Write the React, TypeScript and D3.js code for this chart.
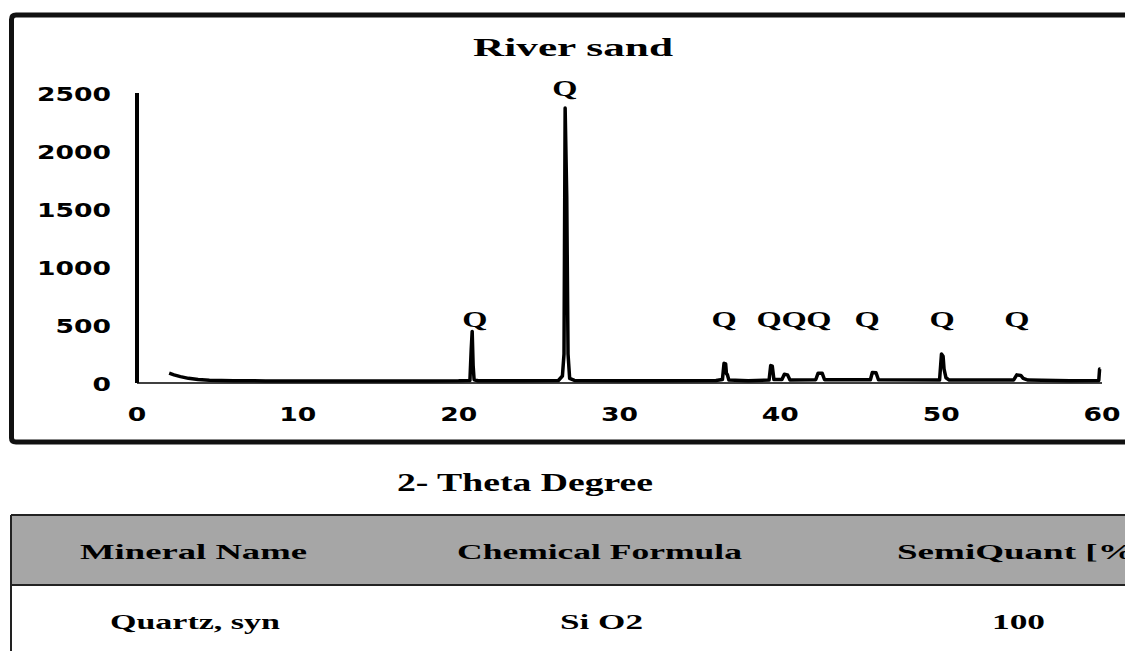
import React from "react";
import * as d3 from "d3";

const twoTheta = [
  2.0, 2.3, 2.7, 3.2, 3.8, 4.5, 6, 8, 10, 12, 14, 16, 18, 20, 20.6,
  20.7, 20.78, 20.84, 20.9, 20.96, 21.2, 24, 26.2, 26.45, 26.55, 26.62, 26.72, 26.8, 26.9, 27.2,
  30, 33, 36, 36.4, 36.5, 36.6, 36.65, 36.7, 36.8, 38, 39.3, 39.4, 39.5, 39.6,
  40.1, 40.25, 40.45, 40.6, 42.2, 42.35, 42.6, 42.75, 45.6, 45.72, 45.95, 46.1,
  49.9, 50.02, 50.12, 50.18, 50.3, 50.5, 54.5, 54.7, 54.95, 55.1, 55.4, 58, 59.8, 59.85, 59.9,
];
const intensity = [
  85, 70, 55, 40, 30, 24, 20, 18, 17, 18, 17, 18, 18, 19, 22,
  22, 290, 445, 150, 28, 20, 20, 22, 60, 250, 2370, 1600, 250, 40, 22,
  20, 20, 22, 30, 170, 165, 80, 75, 25, 20, 25, 150, 145, 30,
  30, 75, 70, 25, 28, 85, 85, 28, 28, 90, 88, 28,
  25, 250, 230, 120, 45, 25, 25, 70, 65, 40, 25, 20, 22, 120, 120,
];

const yTicks = [0, 500, 1000, 1500, 2000, 2500];
const xTicks = [0, 10, 20, 30, 40, 50, 60];

const peakLabelX = [21.0, 26.6, 36.5, 39.3, 40.85, 42.4, 45.4, 50.06, 54.7];
const peakLabelTop = [false, true, false, false, false, false, false, false, false];
const peakLabelText = "Q";

const title = "River sand";
const xTitle = "2- Theta Degree";
const tableHeader = ["Mineral Name", "Chemical Formula", "SemiQuant [%]"];
const tableRow = ["Quartz, syn", "Si O2", "100"];

const SERIF = "'Liberation Serif', 'Times New Roman', serif";
const SANS = "'DejaVu Sans', Verdana, sans-serif";

export default function App() {
  const x = d3.scaleLinear().domain([0, 60]).range([137, 1102]);
  const y = d3.scaleLinear().domain([0, 2500]).range([383, 93]);
  const pts: [number, number][] = twoTheta.map((t, i) => [t, intensity[i]]);
  const line = d3
    .line<[number, number]>()
    .x((d) => x(d[0]))
    .y((d) => y(d[1]));

  const sText = (
    key: string,
    tx: number,
    ty: number,
    s: string,
    size: number,
    family: string,
    sx: number,
    anchor: string
  ) => (
    <text
      key={key}
      transform={`translate(${tx},${ty}) scale(${sx},1)`}
      fontFamily={family}
      fontWeight="bold"
      fontSize={size}
      textAnchor={anchor}
      fill="#000"
    >
      {s}
    </text>
  );

  const headerX = [193, 600, 897];
  const rowX = [195, 601, 1018];

  return (
    <svg
      width={1125}
      height={651}
      style={{ position: "absolute", left: 0, top: 0, background: "#fff" }}
    >
      <rect x={0} y={0} width={1125} height={651} fill="#fff" />
      {/* outer chart frame */}
      <path
        d="M1140,15 L16,15 Q11.5,15 11.5,19.5 L11.5,438 Q11.5,442 16,442 L1140,442"
        fill="none"
        stroke="#111"
        strokeWidth={5}
      />
      {/* title */}
      <text
        x={473}
        y={56}
        fontFamily={SERIF}
        fontWeight="bold"
        fontSize={26}
        textLength={200}
        lengthAdjust="spacingAndGlyphs"
      >
        {title}
      </text>
      {/* axes */}
      <line x1={x(0)} x2={x(0)} y1={y(2500)} y2={y(0)} stroke="#000" strokeWidth={4} />
      <line x1={x(0)} x2={x(60)} y1={y(0)} y2={y(0)} stroke="#000" strokeWidth={1.5} />
      {yTicks.map((v) => sText("y" + v, 111, y(v) + 8, String(v), 19, SANS, 1.4, "end"))}
      {xTicks.map((v) => sText("x" + v, x(v), 421, String(v), 19, SANS, 1.4, "middle"))}
      {/* data */}
      <path
        d={line(pts) || ""}
        fill="none"
        stroke="#000"
        strokeWidth={3.5}
        strokeLinejoin="round"
      />
      {peakLabelX.map((p, i) =>
        sText("q" + i, x(p), peakLabelTop[i] ? 96 : 327, peakLabelText, 24, SERIF, 1.35, "middle")
      )}
      {/* x title */}
      <text
        x={397}
        y={491}
        fontFamily={SERIF}
        fontWeight="bold"
        fontSize={26}
        textLength={256}
        lengthAdjust="spacingAndGlyphs"
      >
        {xTitle}
      </text>
      {/* table */}
      <rect x={11} y={515} width={1125} height={70} fill="#a6a6a6" />
      <line x1={11} x2={1125} y1={515} y2={515} stroke="#222" strokeWidth={2} />
      <line x1={11} x2={1125} y1={585} y2={585} stroke="#222" strokeWidth={2} />
      <line x1={11} x2={11} y1={515} y2={651} stroke="#222" strokeWidth={2} />
      <text x={80} y={559} fontFamily={SERIF} fontWeight="bold" fontSize={22} textLength={227} lengthAdjust="spacingAndGlyphs">
        {tableHeader[0]}
      </text>
      <text x={457} y={559} fontFamily={SERIF} fontWeight="bold" fontSize={22} textLength={285} lengthAdjust="spacingAndGlyphs">
        {tableHeader[1]}
      </text>
      <text x={headerX[2]} y={559} fontFamily={SERIF} fontWeight="bold" fontSize={22} textLength={250} lengthAdjust="spacingAndGlyphs">
        {tableHeader[2]}
      </text>
      <text x={110} y={629} fontFamily={SERIF} fontWeight="bold" fontSize={22} textLength={170} lengthAdjust="spacingAndGlyphs">
        {tableRow[0]}
      </text>
      <text x={560} y={629} fontFamily={SERIF} fontWeight="bold" fontSize={22} textLength={83} lengthAdjust="spacingAndGlyphs">
        {tableRow[1]}
      </text>
      <text x={992} y={629} fontFamily={SERIF} fontWeight="bold" fontSize={22} textLength={53} lengthAdjust="spacingAndGlyphs">
        {tableRow[2]}
      </text>
    </svg>
  );
}
